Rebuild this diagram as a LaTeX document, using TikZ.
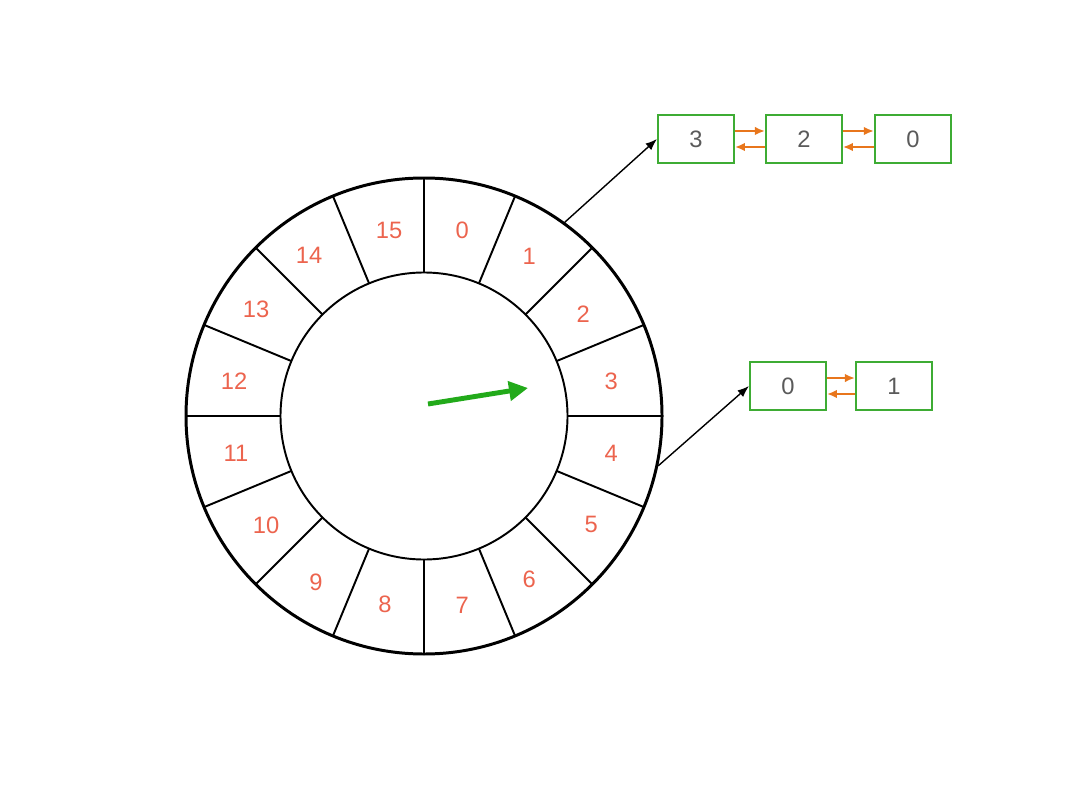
\documentclass[tikz,border=0pt]{standalone}
\usepackage{fontspec}
\setmainfont{Liberation Sans}
\usetikzlibrary{arrows.meta,positioning,calc}
\definecolor{slotred}{RGB}{236,100,78}
\definecolor{boxgreen}{RGB}{62,172,52}
\definecolor{linkorange}{RGB}{232,118,28}
\definecolor{handgreen}{RGB}{34,170,26}
\definecolor{numgrey}{RGB}{90,90,90}

\begin{document}
\begin{tikzpicture}[>=Latex,node distance=0.6cm]
  \tikzstyle{slot}=[text=slotred,font=\fontsize{13.5}{16}\selectfont]
  \tikzstyle{cell}=[draw=boxgreen,line width=1.1pt,minimum width=1.52cm,minimum height=0.96cm,text=numgrey,font=\fontsize{13.5}{16}\selectfont]
  \tikzstyle{link}=[linkorange,line width=1.2pt,-{Latex[length=0.2cm,width=0.17cm]}]
  \useasboundingbox (0,0) rectangle (21.6,15.78);
  \coordinate (c) at (8.48,7.46);
  \node[circle,draw,line width=1.7pt,minimum size=9.52cm,inner sep=0pt] (wheel) at (c) {};
  \node[circle,draw,line width=1.1pt,minimum size=5.74cm,inner sep=0pt] (hub) at (c) {};
  \foreach \k in {0,...,15}
    \draw[line width=1.1pt] ($(c)+(90-22.5*\k:2.87)$) -- ($(c)+(90-22.5*\k:4.76)$);
  \foreach \k/\x/\y in {0/462/230,1/529/256,2/583/314,3/611/381,4/611/453,5/591/524,6/529/579,7/462/605,
                        8/385/604,9/316/582,10/266/525,11/236/453,12/234/381,13/256/309,14/309/255,15/389/230}
    \node[slot] (slot\k) at (0.02*\x,15.78-0.02*\y) {\k};
  \coordinate (tail) at ($(c)+(0.08,0.24)$);
  \coordinate (tip) at ($(c)+(2.08,0.56)$);
  \draw[handgreen,line width=2.8pt,-{Triangle[length=0.38cm,width=0.38cm]}] (tail) -- (tip);
  \node[cell] (a3) at (13.92,13.0) {3};
  \node[cell,right=0.6cm of a3] (a2) {2};
  \node[cell,right=0.62cm of a2] (a0) {0};
  \node[cell] (b0) at (15.76,8.06) {0};
  \node[cell,right=0.56cm of b0] (b1) {1};
  \draw[link] ([yshift=0.16cm]a3.east) -- ([yshift=0.16cm]a2.west);
  \draw[link] ([yshift=-0.16cm]a2.west) -- ([yshift=-0.16cm]a3.east);
  \draw[link] ([yshift=0.16cm]a2.east) -- ([yshift=0.16cm]a0.west);
  \draw[link] ([yshift=-0.16cm]a0.west) -- ([yshift=-0.16cm]a2.east);
  \draw[link] ([yshift=0.16cm]b0.east) -- ([yshift=0.16cm]b1.west);
  \draw[link] ([yshift=-0.16cm]b1.west) -- ([yshift=-0.16cm]b0.east);
  \draw[->,line width=0.8pt] (wheel.54) -- (a3.west);
  \draw[->,line width=0.8pt] (wheel.-12) -- (b0.west);
\end{tikzpicture}
\end{document}
